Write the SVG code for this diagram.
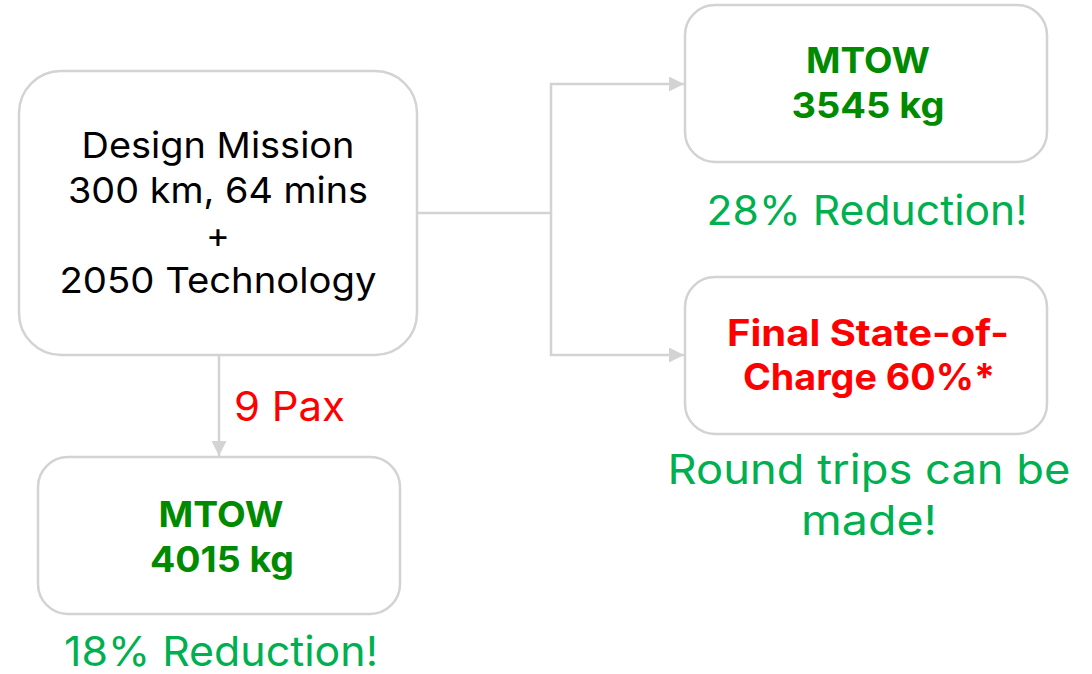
<svg xmlns="http://www.w3.org/2000/svg" width="1092" height="674" viewBox="0 0 1092 674">
<defs>
<style>
.box{fill:#ffffff;stroke:#d3d3d3;stroke-width:2.5}
.conn{fill:none;stroke:#d3d3d3;stroke-width:2.5}
.t{font-family:Inter,"Open Sans",sans-serif;text-anchor:middle}
.main{font-size:36px;fill:#000000}
.bold{font-size:36px;font-weight:bold;fill:#008a00}
.red{font-size:37px;font-weight:bold;fill:#ff0000}
.note{font-size:41px;fill:#00b050}
.lbl{font-size:41px;fill:#ff0000}
</style>
<marker id="arr" viewBox="0 0 10 10" refX="10" refY="5" markerWidth="6" markerHeight="6" orient="auto" markerUnits="strokeWidth">
<path d="M0,0 L10,5 L0,10 z" fill="#d3d3d3"/>
</marker>
</defs>
<rect width="1092" height="674" fill="#ffffff"/>
<g id="connectors">
<path class="conn" d="M417,213 H551 V84 H684" marker-end="url(#arr)"/>
<path class="conn" d="M551,213 V355 H684" marker-end="url(#arr)"/>
<path class="conn" d="M219,355 V456" marker-end="url(#arr)"/>
<text class="t lbl" x="234" y="421" style="text-anchor:start" textLength="111" lengthAdjust="spacingAndGlyphs">9 Pax</text>
</g>
<g id="mission">
<rect class="box" x="19" y="71" width="398" height="284" rx="42"/>
<text class="t main" x="218" y="158" textLength="273" lengthAdjust="spacingAndGlyphs">Design Mission</text>
<text class="t main" x="218" y="203" textLength="300" lengthAdjust="spacingAndGlyphs">300 km, 64 mins</text>
<text class="t main" x="218" y="248">+</text>
<text class="t main" x="218" y="293" textLength="317" lengthAdjust="spacingAndGlyphs">2050 Technology</text>
</g>
<g id="mtow3545">
<rect class="box" x="685" y="5" width="362" height="157" rx="30"/>
<text class="t bold" x="868" y="73" textLength="124" lengthAdjust="spacingAndGlyphs">MTOW</text>
<text class="t bold" x="868" y="118" textLength="153" lengthAdjust="spacingAndGlyphs">3545 kg</text>
<text class="t note" x="867" y="225" textLength="321" lengthAdjust="spacingAndGlyphs">28% Reduction!</text>
</g>
<g id="soc">
<rect class="box" x="685" y="277" width="362" height="157" rx="30"/>
<text class="t red" x="868" y="346" textLength="282" lengthAdjust="spacingAndGlyphs">Final State-of-</text>
<text class="t red" x="869" y="390" textLength="252" lengthAdjust="spacingAndGlyphs">Charge 60%*</text>
<text class="t note" x="869" y="484" textLength="403" lengthAdjust="spacingAndGlyphs">Round trips can be</text>
<text class="t note" x="869" y="535" textLength="136" lengthAdjust="spacingAndGlyphs">made!</text>
</g>
<g id="mtow4015">
<rect class="box" x="38" y="457" width="362" height="157" rx="30"/>
<text class="t bold" x="221" y="527" textLength="125" lengthAdjust="spacingAndGlyphs">MTOW</text>
<text class="t bold" x="222" y="572" textLength="144" lengthAdjust="spacingAndGlyphs">4015 kg</text>
<text class="t note" x="221" y="666" textLength="314" lengthAdjust="spacingAndGlyphs">18% Reduction!</text>
</g>
</svg>
